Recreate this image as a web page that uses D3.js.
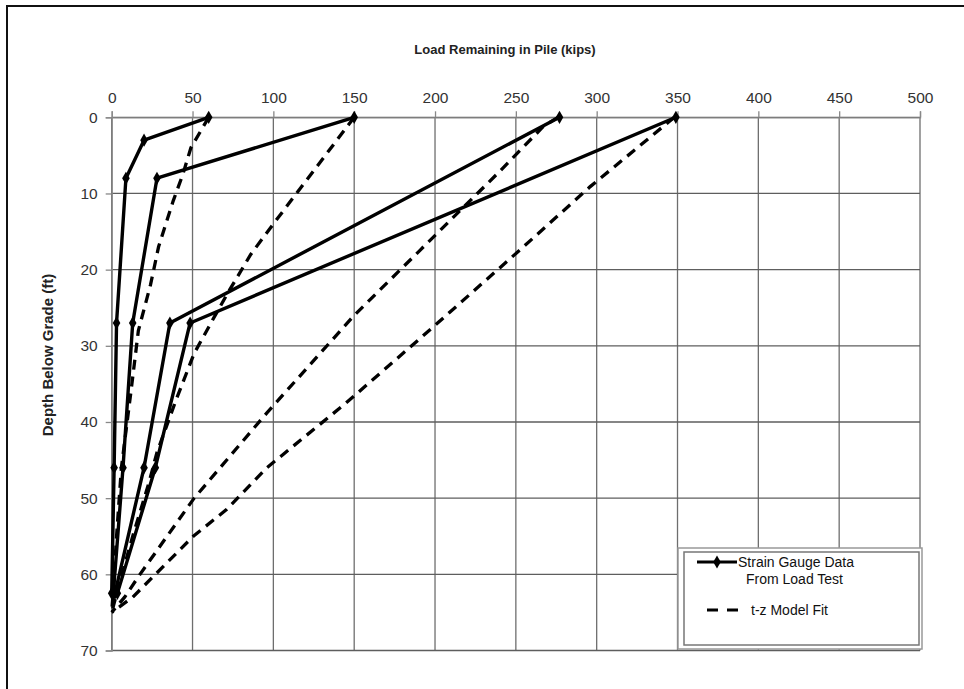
<!DOCTYPE html>
<html>
  <head>
  <title>Pile Load</title>
  <style>
    body, html {
      margin: 0;
      padding: 0;
      background: #fff;
    }
  </style>
  </head>
  <body>

  <svg id="svg" width="964" height="689"></svg>
  <script src="https://d3js.org/d3.v7.min.js"></script>
  <script>
      // strain gauge data (solid, with markers)
      const sg60Depth = [0, 3, 8, 27, 46, 62.5]
      const sg60Load = [60, 20, 8.8, 3, 1.5, 0]
      const sg150Depth = [0, 8, 27, 46, 62.5]
      const sg150Load = [150, 28, 13, 7, 1]
      const sg276Depth = [0, 27, 46, 62.5]
      const sg276Load = [277, 36, 20, 2]
      const sg348Depth = [0, 27, 46, 62.5]
      const sg348Load = [349, 48.5, 27, 3.5]

      // t-z model fit (dashed)
      const tz60Depth = [0, 4, 7.5, 11, 17, 22, 28, 35, 46, 55, 62, 65]
      const tz60Load = [60, 49, 44, 38, 29, 24, 16.5, 12.5, 6, 3, 1, 0]
      const tz150Depth = [0, 7, 14, 18, 23, 26, 31, 37, 44, 48, 55, 61, 65]
      const tz150Load = [150, 125, 100, 86, 72, 64, 51, 40, 28, 23, 13, 5, 0]
      const tz276Depth = [0, 1.2, 7.1, 17.4, 26, 38.8, 50, 60, 63, 65]
      const tz276Load = [276, 267, 240, 191, 150, 96, 51, 17.5, 8, 0]
      const tz348Depth = [0, 9.1, 17.4, 27.5, 37.5, 46, 51.5, 55, 63, 65]
      const tz348Load = [348, 296, 252.6, 199, 145, 96, 71, 50.5, 13, 0]

      const xTicks = [0, 50, 100, 150, 200, 250, 300, 350, 400, 450, 500]
      const yTicks = [0, 10, 20, 30, 40, 50, 60, 70]

      const gaugeSeries = [
        [sg60Load, sg60Depth], [sg150Load, sg150Depth],
        [sg276Load, sg276Depth], [sg348Load, sg348Depth]
      ]
      const modelSeries = [
        [tz60Load, tz60Depth], [tz150Load, tz150Depth],
        [tz276Load, tz276Depth], [tz348Load, tz348Depth]
      ]

      const plotLeft = 111.7, plotRight = 920, plotTop = 117.3, plotBottom = 650.5
      const x = d3.scaleLinear().domain([0, 500]).range([plotLeft, plotRight])
      const y = d3.scaleLinear().domain([0, 70]).range([plotTop, plotBottom])

      const svg = d3.select('#svg')
      const font = "'Liberation Sans', Arial, sans-serif"

      // outer frame
      svg.append('rect')
        .attr('x', 7).attr('y', 6)
        .attr('width', 970).attr('height', 700)
        .attr('fill', 'none').attr('stroke', '#111').attr('stroke-width', 2)

      // gridlines
      svg.append('g').selectAll('line')
        .data(xTicks).join('line')
        .attr('x1', d => x(d)).attr('x2', d => x(d))
        .attr('y1', plotTop).attr('y2', plotBottom)
        .attr('stroke', '#6e6e6e').attr('stroke-width', 1.3)
      svg.append('g').selectAll('line')
        .data(yTicks).join('line')
        .attr('x1', plotLeft).attr('x2', plotRight)
        .attr('y1', d => y(d)).attr('y2', d => y(d))
        .attr('stroke', '#5e5e5e').attr('stroke-width', 1.3)

      // axes
      const xAxis = svg.append('g')
        .attr('transform', `translate(0,${plotTop})`)
        .call(d3.axisTop(x).tickValues(xTicks).tickSize(6).tickPadding(8))
      const yAxis = svg.append('g')
        .attr('transform', `translate(${plotLeft},0)`)
        .call(d3.axisLeft(y).tickValues(yTicks).tickSize(6).tickPadding(8))
      ;[xAxis, yAxis].forEach(a => {
        a.select('.domain').attr('stroke', '#888').attr('stroke-width', 1.3)
        a.selectAll('.tick line').attr('stroke', '#888').attr('stroke-width', 1.3)
        a.selectAll('text')
          .attr('font-family', font).attr('font-size', 15.5).attr('fill', '#333')
      })

      // titles
      svg.append('text')
        .attr('x', 505).attr('y', 54)
        .attr('text-anchor', 'middle')
        .attr('font-family', font).attr('font-weight', 'bold').attr('font-size', 13)
        .attr('fill', '#222')
        .text('Load Remaining in Pile (kips)')
      svg.append('text')
        .attr('transform', 'translate(53,355) rotate(-90)')
        .attr('text-anchor', 'middle')
        .attr('font-family', font).attr('font-weight', 'bold').attr('font-size', 15)
        .attr('fill', '#222')
        .text('Depth Below Grade (ft)')

      const line = d3.line().x(d => x(d[0])).y(d => y(d[1]))
      const pairs = s => s[0].map((v, i) => [v, s[1][i]])

      // model fit curves
      svg.append('g').selectAll('path')
        .data(modelSeries).join('path')
        .attr('d', s => line(pairs(s)))
        .attr('fill', 'none').attr('stroke', '#000')
        .attr('stroke-width', 3.3).attr('stroke-dasharray', '10,7')

      // gauge data
      const diamond = d3.symbol().type(d3.symbolDiamond).size(50)
      const g = svg.append('g').selectAll('g')
        .data(gaugeSeries).join('g')
      g.append('path')
        .attr('d', s => line(pairs(s)))
        .attr('fill', 'none').attr('stroke', '#000')
        .attr('stroke-width', 3.4).attr('stroke-linejoin', 'round')
      g.selectAll('.pt')
        .data(s => pairs(s)).join('path')
        .attr('class', 'pt')
        .attr('transform', d => `translate(${x(d[0])},${y(d[1])})`)
        .attr('d', diamond).attr('fill', '#000')

      // legend
      const lg = svg.append('g')
      lg.append('rect')
        .attr('x', 678).attr('y', 548).attr('width', 244).attr('height', 101)
        .attr('fill', '#fff').attr('stroke', '#999').attr('stroke-width', 1.5)
      lg.append('rect')
        .attr('x', 684).attr('y', 552).attr('width', 235).attr('height', 93)
        .attr('fill', 'none').attr('stroke', '#777').attr('stroke-width', 1.5)
      lg.append('line')
        .attr('x1', 697).attr('x2', 737).attr('y1', 562).attr('y2', 562)
        .attr('stroke', '#000').attr('stroke-width', 3.2)
      lg.append('path')
        .attr('transform', 'translate(717,562)')
        .attr('d', diamond).attr('fill', '#000')
      lg.append('line')
        .attr('x1', 707).attr('x2', 743).attr('y1', 610).attr('y2', 610)
        .attr('stroke', '#000').attr('stroke-width', 3.2)
        .attr('stroke-dasharray', '11,9')
      const lt = [['Strain Gauge Data', 738, 567], ['From Load Test', 746, 584], ['t-z Model Fit', 751, 615]]
      lg.selectAll('text')
        .data(lt).join('text')
        .attr('x', d => d[1]).attr('y', d => d[2])
        .attr('font-family', font).attr('font-size', 14).attr('fill', '#111')
        .text(d => d[0])
  </script>
</body>
</html>
